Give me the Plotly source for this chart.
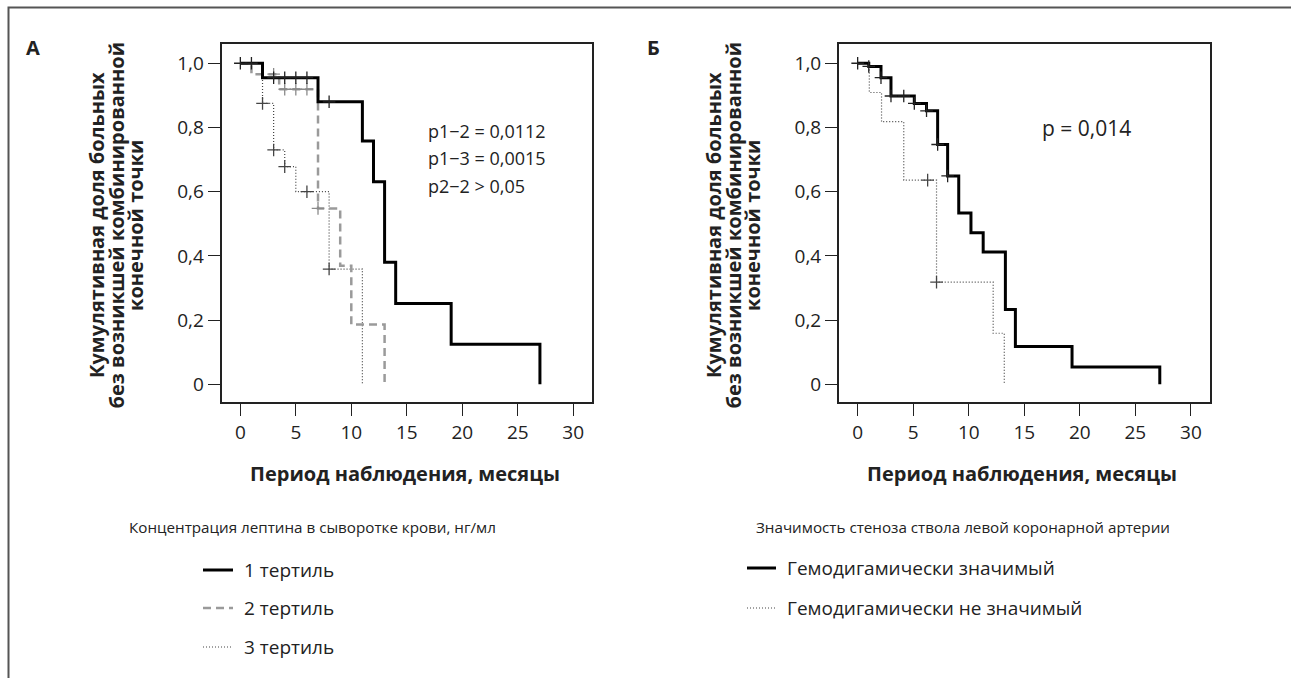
import plotly.graph_objects as go

W, H = 1291, 678
def X(px): return px / W
def Y(py): return 1 - py / H

# ---------------- data ----------------
# Panel A: leptin tertiles (time of step, survival after step)
a1_t = [0, 2, 7, 11, 12, 13, 14, 19, 27]
a1_s = [1.0, 0.955, 0.88, 0.758, 0.631, 0.38, 0.252, 0.125, 0.0]
a1_cens = [0, 1, 3, 4, 5, 6, 8]

a2_t = [0, 1, 3.5, 7, 9, 10, 13]
a2_s = [1.0, 0.966, 0.919, 0.548, 0.369, 0.186, 0.0]
a2_cens = [3, 4, 5, 6, 7]

a3_t = [0, 2, 3, 4, 5, 8, 11]
a3_s = [1.0, 0.875, 0.73, 0.678, 0.6, 0.359, 0.0]
a3_cens = [2, 3, 4, 6, 8]

# Panel B: LMCA stenosis significance
b1_t = [0, 1, 2.1, 3.0, 5.1, 6.2, 7.2, 8.1, 9.1, 10.2, 11.3, 13.3, 14.2, 19.3, 27.2]
b1_s = [1.0, 0.99, 0.955, 0.898, 0.875, 0.852, 0.747, 0.649, 0.534, 0.472, 0.412, 0.233, 0.118, 0.054, 0.0]
b1_cens = [0, 1, 2.1, 3.0, 4.15, 5.1, 6.2, 7.2, 8.1]

b2_t = [0, 1.05, 2.15, 4.15, 7.1, 12.2, 13.2]
b2_s = [1.0, 0.909, 0.818, 0.636, 0.318, 0.159, 0.0]
b2_cens = [6.3, 7.1]

x_ticks = [0, 5, 10, 15, 20, 25, 30]
y_ticks = [0, 0.2, 0.4, 0.6, 0.8, 1.0]
y_ticktext = ["0", "0,2", "0,4", "0,6", "0,8", "1,0"]

y_title_lines = ["Кумулятивная доля больных", "без возникшей комбинированной", "конечной точки"]
x_title = "Период наблюдения, месяцы"
subtitle_a = "Концентрация лептина в сыворотке крови, нг/мл"
subtitle_b = "Значимость стеноза ствола левой коронарной артерии"
legend_a = ["1 тертиль", "2 тертиль", "3 тертиль"]
legend_b = ["Гемодигамически значимый", "Гемодигамически не значимый"]
ptext_a = ["p1−2 = 0,0112", "p1−3 = 0,0015", "p2−2 > 0,05"]
ptext_b = ["p = 0,014"]

FONT = "Open Sans"
TXT = "#222222"

def surv_at(t_list, s_list, t):
    v = s_list[0]
    for tt, ss in zip(t_list, s_list):
        if tt <= t:
            v = ss
    return v

fig = go.Figure()

def add_curve(t, s, cens, color, width, dash, xa, ya, mcolor):
    fig.add_trace(go.Scatter(x=t, y=s, mode="lines", line_shape="hv",
                             line=dict(color=color, width=width, dash=dash),
                             xaxis=xa, yaxis=ya, showlegend=False, hoverinfo="skip"))
    fig.add_trace(go.Scatter(x=cens, y=[surv_at(t, s, c) for c in cens], mode="markers",
                             marker=dict(symbol="cross-thin", size=9,
                                         line=dict(color=mcolor, width=1.3)),
                             xaxis=xa, yaxis=ya, showlegend=False, hoverinfo="skip"))

add_curve(a3_t, a3_s, a3_cens, "#444444", 1.2, "1px,2px", "x", "y", "#444444")
add_curve(a2_t, a2_s, a2_cens, "#9a9a9a", 2.5, "8px,5px", "x", "y", "#8a8a8a")
add_curve(a1_t, a1_s, a1_cens, "#000000", 3, "solid", "x", "y", "#222222")

add_curve(b2_t, b2_s, b2_cens, "#444444", 1.2, "1px,2px", "x2", "y2", "#444444")
add_curve(b1_t, b1_s, b1_cens, "#000000", 3, "solid", "x2", "y2", "#222222")

axis_common = dict(showline=True, linewidth=2, linecolor="#222222", mirror=True,
                   ticks="outside", ticklen=12, tickwidth=1, tickcolor="#222222",
                   showgrid=False, zeroline=False, automargin=False,
                   tickfont=dict(family=FONT, size=19, color=TXT))
xr = [-1.68, 31.72]
yr = [-0.056, 1.06]
fig.update_layout(
    width=W, height=H, margin=dict(l=0, r=0, t=0, b=0),
    paper_bgcolor="white", plot_bgcolor="white",
    font=dict(family=FONT, color=TXT),
    xaxis=dict(domain=[X(221.7), X(592.3)], range=xr, tickvals=x_ticks, anchor="y", **axis_common),
    yaxis=dict(domain=[Y(402.3), Y(44)], range=yr, tickvals=y_ticks, ticktext=y_ticktext, anchor="x", **axis_common),
    xaxis2=dict(domain=[X(839), X(1210)], range=xr, tickvals=x_ticks, anchor="y2", **axis_common),
    yaxis2=dict(domain=[Y(402.3), Y(44)], range=yr, tickvals=y_ticks, ticktext=y_ticktext, anchor="x2", **axis_common),
)

ann = []
def text(x, y, s, size, bold=False, xanchor="left", angle=0):
    ann.append(dict(x=X(x), y=Y(y), xref="paper", yref="paper", text=(f"<b>{s}</b>" if bold else s),
                    showarrow=False, xanchor=xanchor, yanchor="middle", textangle=angle,
                    font=dict(family=FONT, size=size, color=TXT)))

# panel letters
text(33, 47, "А", 20, bold=True, xanchor="center")
text(653, 47, "Б", 20, bold=True, xanchor="center")

# y titles (three lines each)
for cx in (97, 714):
    for i, line in enumerate(y_title_lines):
        text(cx + i * 19.5, 225, line, 20, bold=True, xanchor="center", angle=-90)

# x titles
text(405, 473, x_title, 20, bold=True, xanchor="center")
text(1022, 473, x_title, 20, bold=True, xanchor="center")

# subtitles
text(312, 527, subtitle_a, 15.2, xanchor="center")
text(963, 527, subtitle_b, 15.2, xanchor="center")

# p-values
for i, s in enumerate(ptext_a):
    text(426, 131 + i * 27.5, s, 18)
text(1040, 128, ptext_b[0], 21)

# legends
shapes = []
leg_a_y = [570, 608, 647]
leg_a_style = [("#000000", 3, "solid"), ("#9a9a9a", 2.5, "8px,5px"), ("#444444", 1.2, "1px,2px")]
for yy, lab, (c, w, d) in zip(leg_a_y, legend_a, leg_a_style):
    shapes.append(dict(type="line", xref="paper", yref="paper", x0=X(203), x1=X(233), y0=Y(yy), y1=Y(yy),
                       line=dict(color=c, width=w, dash=d)))
    text(242, yy, lab, 19)
leg_b_y = [568, 608]
leg_b_style = [("#000000", 3, "solid"), ("#444444", 1.2, "1px,2px")]
for yy, lab, (c, w, d) in zip(leg_b_y, legend_b, leg_b_style):
    shapes.append(dict(type="line", xref="paper", yref="paper", x0=X(747), x1=X(776), y0=Y(yy), y1=Y(yy),
                       line=dict(color=c, width=w, dash=d)))
    text(785, yy, lab, 19)

# outer frame
shapes.append(dict(type="rect", xref="paper", yref="paper", x0=X(8.5), x1=1.02, y0=-0.02, y1=Y(7.5),
                   line=dict(color="#555555", width=2)))

fig.update_layout(annotations=ann, shapes=shapes)
fig.write_html("out.html", config={"displayModeBar": False},
               post_script="document.body.style.margin='0';")
